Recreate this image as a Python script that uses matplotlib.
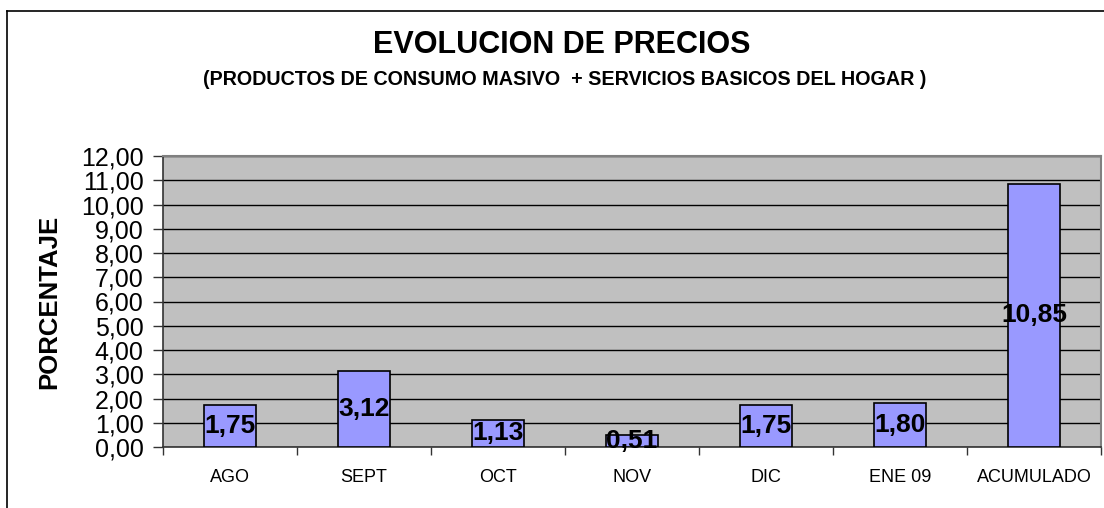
import matplotlib
matplotlib.use("Agg")
import matplotlib.pyplot as plt
from matplotlib.lines import Line2D
import numpy as np

categories = ["AGO", "SEPT", "OCT", "NOV", "DIC", "ENE 09", "ACUMULADO"]
values = [1.75, 3.12, 1.13, 0.51, 1.75, 1.80, 10.85]
value_labels = ["1,75", "3,12", "1,13", "0,51", "1,75", "1,80", "10,85"]
yticks = list(range(0, 13))
ytick_labels = [f"{v},00" for v in yticks]

plt.rcParams['font.family'] = ['Liberation Sans', 'DejaVu Sans']

W, H = 1104, 508
fig = plt.figure(figsize=(W / 100, H / 100), dpi=100)
fig.patch.set_facecolor("white")

ax = fig.add_axes([163 / W, 1 - 447 / H, (1101 - 163) / W, (447 - 156) / H])
ax.set_facecolor("#C0C0C0")
x = np.arange(len(categories))
ax.set_axisbelow(True)
ax.yaxis.grid(True, color="black", linewidth=1.0)
bars = ax.bar(x, values, width=0.39, color="#9999FF", edgecolor="black", linewidth=1.2, zorder=3)
for xi, v, lab in zip(x, values, value_labels):
    ax.text(xi, v / 2, lab, ha="center", va="center", fontsize=19, fontweight="bold", color="black", zorder=4)

ax.set_xlim(-0.5, len(categories) - 0.5)
ax.set_ylim(0, 12)
ax.set_yticks(yticks)
ax.set_yticklabels(ytick_labels, fontsize=18)
ax.set_xticks(x)
ax.set_xticklabels(categories, fontsize=13)
ax.set_xticks(np.arange(-0.5, len(categories), 1.0), minor=True)
ax.tick_params(axis="x", which="major", length=0, pad=16)
ax.tick_params(axis="x", which="minor", length=6, width=1, direction="out", color="#333333")
ax.tick_params(axis="y", length=7, width=1, direction="out", color="#333333", pad=7)
for s in ["left", "bottom"]:
    ax.spines[s].set_color("#333333")
    ax.spines[s].set_linewidth(1.2)
for s in ["top", "right"]:
    ax.spines[s].set_color("#808080")
    ax.spines[s].set_linewidth(1.5)

ax.set_ylabel("PORCENTAJE", fontsize=18.5, fontweight="bold", labelpad=14)

fig.text(562 / W, 1 - 45 / H, "EVOLUCION DE PRECIOS", ha="center", va="center",
         fontsize=22, fontweight="bold")
fig.text(565 / W, 1 - 80 / H, "(PRODUCTOS DE CONSUMO MASIVO  + SERVICIOS BASICOS DEL HOGAR )",
         ha="center", va="center", fontsize=14.2, fontweight="bold")

fig.add_artist(Line2D([7 / W, 1.0], [1 - 11 / H, 1 - 11 / H], color="black", linewidth=1.2, transform=fig.transFigure))
fig.add_artist(Line2D([7 / W, 7 / W], [0, 1 - 11 / H], color="black", linewidth=1.2, transform=fig.transFigure))

fig.savefig("out.png", dpi=100)
